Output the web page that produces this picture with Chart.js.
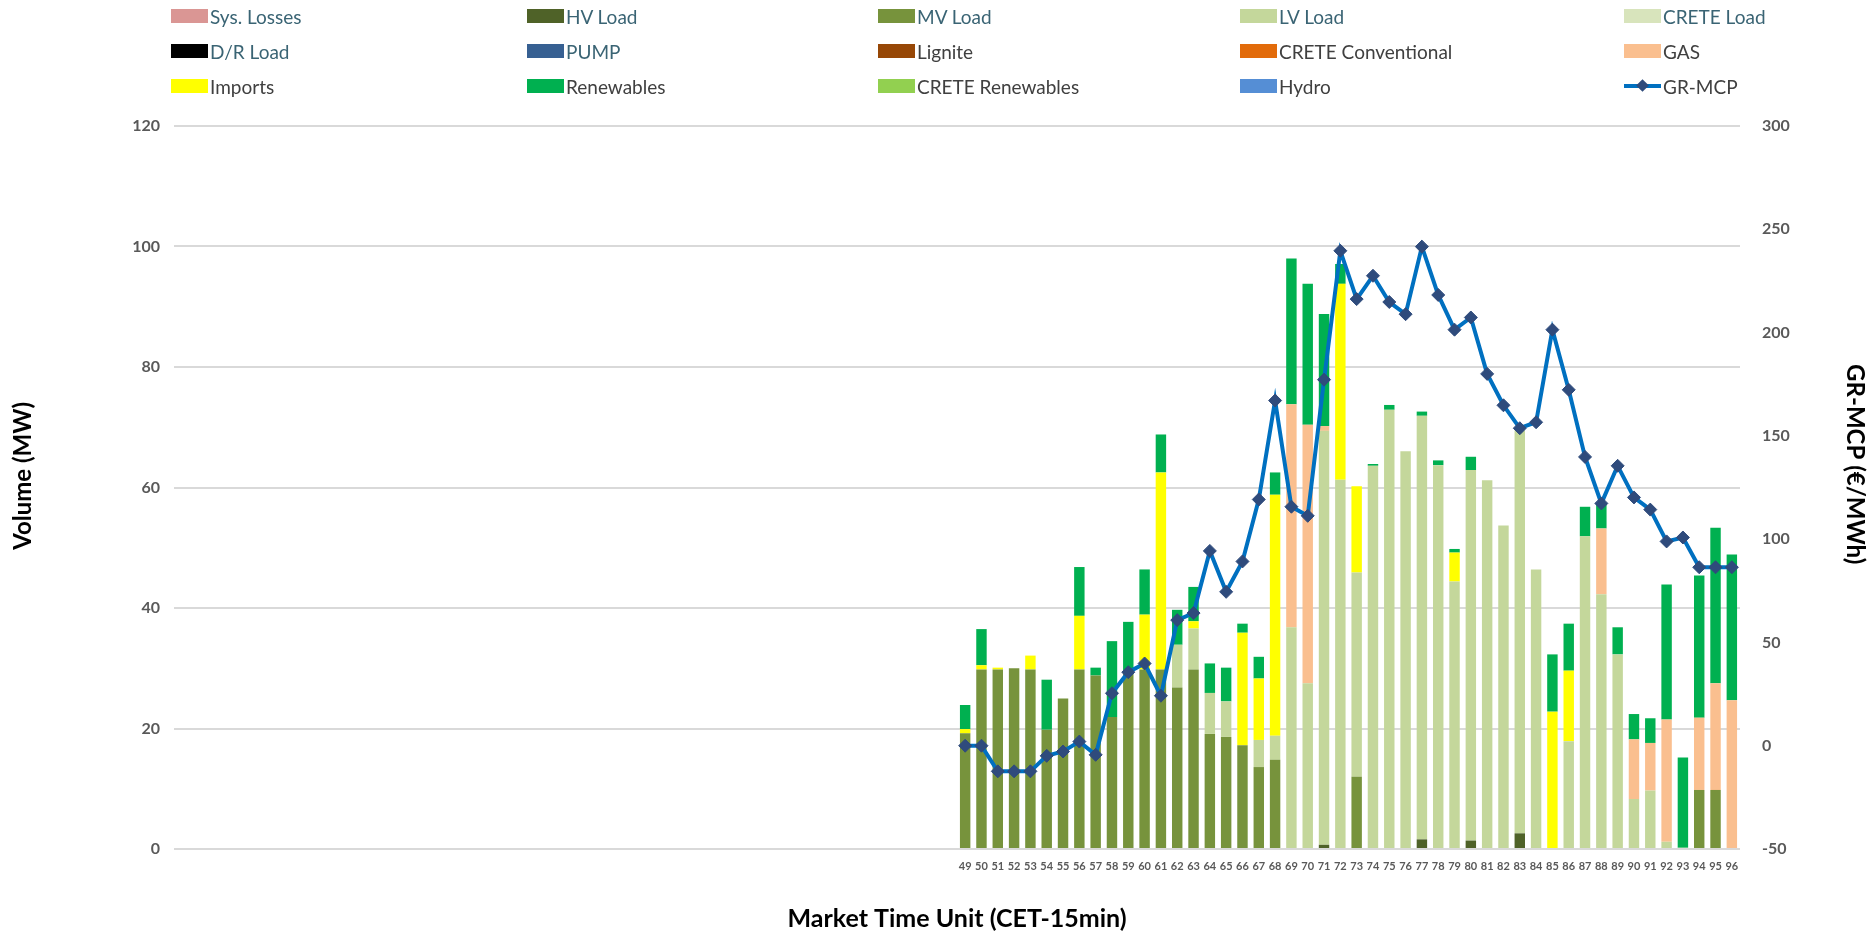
<!DOCTYPE html>
<html>
<head>
<meta charset="utf-8">
<title>GR-MCP</title>
<script src="https://cdn.jsdelivr.net/npm/chart.js@4.4.1/dist/chart.umd.min.js"></script>
<style>
  body { margin: 0; background: #fff; }
  #wrap { position: relative; width: 1872px; height: 934px; }
  #legend { position: absolute; left: 0; top: 0; width: 1872px; height: 110px; font-family: Lato, sans-serif; font-size: 19px; }
  .item { position: absolute; display: flex; align-items: center; white-space: nowrap; height: 24px; }
  .box { width: 37px; height: 14px; margin-right: 2px; }
  .key { position: relative; width: 37px; height: 14px; margin-right: 2px; }
  .key .ln { position: absolute; left: 0; right: 0; top: 5px; height: 4px; background: #0070C0; }
  .key .dm { position: absolute; left: 14px; top: 2px; width: 9px; height: 9px; background: #2F4B7C; transform: rotate(45deg); }
</style>
</head>
<body>
<div id="wrap">
  <canvas id="grafico"></canvas>
  <div id="legend"></div>
</div>
<script>
// MTU 49..96 (1..48 sem dados)
const mtuLabels = ['49','50','51','52','53','54','55','56','57','58','59','60','61','62','63','64','65','66','67','68','69','70','71','72',
                   '73','74','75','76','77','78','79','80','81','82','83','84','85','86','87','88','89','90','91','92','93','94','95','96'];

const hvLoad = [0,0,0,0,0,0,0,0,0,0,0,0,0,0,0,0,0,0,0,0,0,0,0.7,0,
                0,0,0,0,1.6,0,0,1.4,0,0,2.6,0,0,0,0,0,0,0,0,0,0,0,0,0];
const mvLoad = [19.2,29.8,29.8,30.0,29.8,19.8,25.0,29.8,28.8,21.9,29.6,29.8,29.8,26.8,29.8,19.1,18.6,17.2,13.6,14.8,0,0,0,0,
                12.0,0,0,0,0,0,0,0,0,0,0,0,0,0,0,0,0,0,0,0,0,9.8,9.8,0];
const lvLoad = [0,0,0,0,0,0,0,0,0,0,0,0,0,7.1,6.8,6.8,5.9,0,4.5,4.0,36.8,27.5,68.7,61.3,
                33.9,63.6,72.9,66.0,70.3,63.7,44.4,61.5,61.2,53.7,66.9,46.4,0,17.9,51.9,42.3,32.3,8.3,9.7,1.2,0.2,0,0,0];
const gas = [0,0,0,0,0,0,0,0,0,0,0,0,0,0,0,0,0,0,0,0,37.0,42.9,0.8,0,
             0,0,0,0,0,0,0,0,0,0,0,0,0,0,0,10.9,0,9.9,7.9,20.3,0,12.0,17.7,24.7];
const imports = [0.7,0.7,0.3,0,2.3,0,0,8.9,0,0,0,9.1,32.7,0,1.2,0,0,18.7,10.2,40.0,0,0,0,32.5,
                 14.3,0,0,0,0,0,4.8,0,0,0,0,0,22.8,11.7,0,0,0,0,0,0,0,0,0,0];
const renewables = [4.0,6.0,0,0,0,8.3,0,8.1,1.3,12.6,8.1,7.5,6.3,5.8,5.7,4.9,5.6,1.5,3.6,3.7,24.2,23.4,18.6,3.3,
                    0,0.3,0.8,0,0.7,0.8,0.6,2.2,0,0,0,0,9.5,7.8,4.9,4.1,4.5,4.2,4.1,22.4,15.0,23.6,25.8,24.2];
const grMcp = [0,0,-12.4,-12.4,-12.4,-4.9,-2.8,2.0,-4.4,25.4,35.6,39.8,24.2,60.8,64.2,94.3,74.5,89.2,119.2,167.1,115.7,111.3,177.2,239.6,
               216.2,227.5,214.8,208.9,241.6,218.2,201.4,207.3,180.0,164.8,153.7,156.6,201.4,172.3,139.8,117.3,135.5,120.2,114.3,98.9,100.8,86.4,86.4,86.4];

// primeiras 48 posições do eixo ficam vazias
const vazio = n => Array(48).fill(n);
const pad = arr => vazio(null).concat(arr);
const labels = vazio('').concat(mtuLabels);

const fonte = 'Lato, "Open Sans", sans-serif';
const cinzaTick = '#595959';

function barra(label, data, cor) {
    return { type: 'bar', label: label, data: pad(data), backgroundColor: cor, stack: 'vol', yAxisID: 'y', order: 1,
             barPercentage: 0.64, categoryPercentage: 1.0 };
}

const datasets = [
    barra('Sys. Losses', [], '#DA9694'),
    barra('HV Load', hvLoad, '#4F6228'),
    barra('MV Load', mvLoad, '#77933C'),
    barra('LV Load', lvLoad, '#C4D79B'),
    barra('CRETE Load', [], '#D8E4BC'),
    barra('D/R Load', [], '#000000'),
    barra('PUMP', [], '#376092'),
    barra('Lignite', [], '#974706'),
    barra('CRETE Conventional', [], '#E26B0A'),
    barra('GAS', gas, '#FABF8F'),
    barra('Imports', imports, '#FFFF00'),
    barra('Renewables', renewables, '#00B050'),
    barra('CRETE Renewables', [], '#92D050'),
    barra('Hydro', [], '#558ED5'),
    {
        type: 'line', label: 'GR-MCP', data: pad(grMcp), yAxisID: 'y1', order: 0,
        borderColor: '#0070C0', borderWidth: 4, tension: 0,
        pointStyle: 'rectRot', pointRadius: 6.5, pointBackgroundColor: '#2F4B7C', pointBorderColor: '#2F4B7C', pointBorderWidth: 1
    }
];

const ctx = document.getElementById('grafico').getContext('2d');
const grafico = new Chart(ctx, {
    data: { labels: labels, datasets: datasets },
    options: {
        responsive: true,
        maintainAspectRatio: false,
        animation: false,
        layout: { padding: { top: 126, left: 0, right: 0, bottom: 0 } },
        plugins: { legend: { display: false }, tooltip: { enabled: false } },
        scales: {
            x: {
                stacked: true,
                grid: { display: false },
                border: { display: false },
                ticks: { autoSkip: false, maxRotation: 0, minRotation: 0, padding: 3, color: cinzaTick,
                         font: { family: fonte, size: 11, weight: 'bold' } },
                title: { display: true, text: 'Market Time Unit (CET-15min)', color: '#000', padding: 0,
                         font: { family: fonte, size: 25, weight: 'bold' } },
                afterFit: s => { s.height = 85; }
            },
            y: {
                stacked: true, min: 0, max: 120,
                grid: { color: '#D9D9D9', lineWidth: 2, drawTicks: false },
                border: { display: false },
                ticks: { stepSize: 20, padding: 14, color: cinzaTick, font: { family: fonte, size: 16, weight: 'bold' } },
                title: { display: true, text: '    Volume (MW)', color: '#000', padding: { top: 9, bottom: 0 },
                         font: { family: fonte, size: 24, weight: 'bold' } },
                afterFit: s => { s.width = 174; }
            },
            y1: {
                position: 'right', min: -50, max: 300,
                grid: { display: false },
                border: { display: false },
                ticks: { stepSize: 50, padding: 14, color: cinzaTick, font: { family: fonte, size: 16, weight: 'bold' } },
                title: { display: true, text: 'GR-MCP (€/MWh)        ', color: '#000', padding: { top: 3, bottom: 0 },
                         font: { family: fonte, size: 24, weight: 'bold' } },
                afterFit: s => { s.width = 132; }
            }
        }
    }
});

// Legenda em grade (5 colunas x 3 linhas), como no original
const colX = [171, 527, 878, 1240, 1624];
const rowY = [16, 51, 86];
const azul = ['Sys. Losses', 'HV Load', 'MV Load', 'LV Load', 'CRETE Load', 'D/R Load', 'PUMP'];
const legendaEl = document.getElementById('legend');
grafico.data.datasets.forEach((ds, i) => {
    const item = document.createElement('div');
    item.className = 'item';
    item.style.left = colX[i % 5] + 'px';
    item.style.top = (rowY[Math.floor(i / 5)] - 12) + 'px';
    item.style.color = azul.includes(ds.label) ? '#3A6474' : '#404040';
    if (ds.type === 'line') {
        item.innerHTML = '<div class="key"><div class="ln"></div><div class="dm"></div></div>';
    } else {
        item.innerHTML = '<div class="box" style="background:' + ds.backgroundColor + '"></div>';
    }
    item.appendChild(document.createTextNode(ds.label));
    legendaEl.appendChild(item);
});
</script>
</body>
</html>
